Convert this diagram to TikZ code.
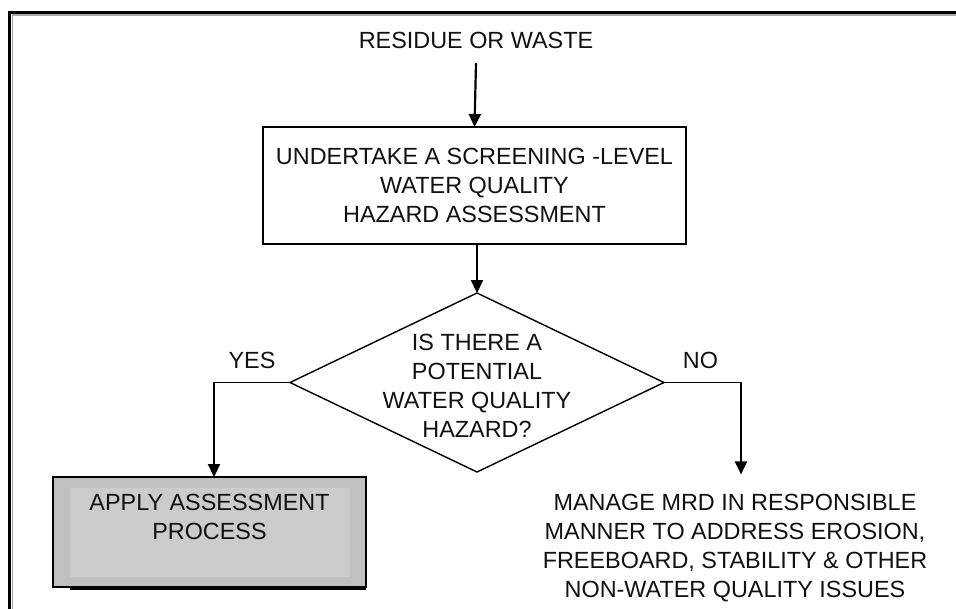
\documentclass[tikz,border=0pt]{standalone}
\usepackage{fontspec}
\setmainfont{Liberation Sans}
\usetikzlibrary{arrows.meta,shapes.geometric}
\definecolor{panelgray}{HTML}{C0C0C0}
\definecolor{panelinner}{HTML}{CCCCCC}
\definecolor{framegray}{HTML}{A8A8A8}
\definecolor{ink}{HTML}{111111}
\tikzset{
  lbl/.style={font=\fontsize{23.4}{29}\selectfont, align=center, inner sep=0pt, outer sep=0pt, text=ink},
  stepbox/.style={draw, line width=1.4pt, rectangle, inner sep=0pt, outer sep=0pt},
  flow/.style={line width=2.2pt, -{Triangle[length=13pt,width=12pt]}},
  link/.style={line width=1.6pt},
}
\begin{document}
\begin{tikzpicture}[x=1pt,y=-1pt]
\useasboundingbox (0,0) rectangle (956,608);
\clip (0,0) rectangle (956,608);
\fill[white] (0,0) rectangle (956,608);

% outer frame (open to the right and bottom)
\draw[framegray, line width=1.2pt] (12.3,620) -- (12.3,15) -- (970,15);
\draw[line width=3pt] (9.5,620) -- (9.5,12.5) -- (970,12.5);

% start label
\node[lbl, anchor=base, inner ysep=14.6pt] (src) at (476,48.4) {RESIDUE OR WASTE};

% screening box
\node[stepbox, lbl, draw=black, line width=1.4pt, minimum width=423pt, minimum height=117pt]
  (screen) at (474.5,185.5) {UNDERTAKE A SCREENING -LEVEL\\WATER QUALITY\\HAZARD ASSESSMENT};

% decision
\node[diamond, draw, line width=1.4pt, minimum width=374pt, minimum height=179pt,
      inner sep=0pt, outer sep=0pt] (dec) at (477,382.5) {};
\node[lbl] (dectxt) at (477,385.5) {IS THERE A\\POTENTIAL\\WATER QUALITY\\HAZARD?};

\node[lbl, anchor=base] (yes) at (252,368) {YES};
\node[lbl, anchor=base] (no) at (700.5,368) {NO};

% assessment box with shadow and inner panel
\fill[black] (70,579) rectangle (366,589.5);
\node[stepbox, fill=panelgray, minimum width=313pt, minimum height=110pt] (apply) at (209.5,532) {};
\fill[panelinner] ([xshift=17pt,yshift=-11pt]apply.north west) rectangle ([xshift=-16pt,yshift=10pt]apply.south east);
\node[lbl] (applytxt) at (209.5,516.5) {APPLY ASSESSMENT\\PROCESS};

% outcome for no hazard
\node[lbl, inner ysep=19.7pt] (manage) at (735,548)
  {MANAGE MRD IN RESPONSIBLE\\MANNER TO ADDRESS EROSION,\\FREEBOARD, STABILITY \& OTHER\\NON-WATER QUALITY ISSUES};

% connectors
\draw[flow] (src.south) -- (screen.north);
\draw[flow] (screen.south -| dec.north) -- (dec.north);
\coordinate (yescorner) at (214,382.5);
\coordinate (nocorner) at (741,382.5);
\draw[link] (dec.west) -- (yescorner);
\draw[flow] ([yshift=0.8pt]yescorner) -- (yescorner |- apply.north);
\draw[link] (dec.east) -- (nocorner);
\draw[flow] ([yshift=0.8pt]nocorner) -- (nocorner |- manage.north);
\end{tikzpicture}
\end{document}
